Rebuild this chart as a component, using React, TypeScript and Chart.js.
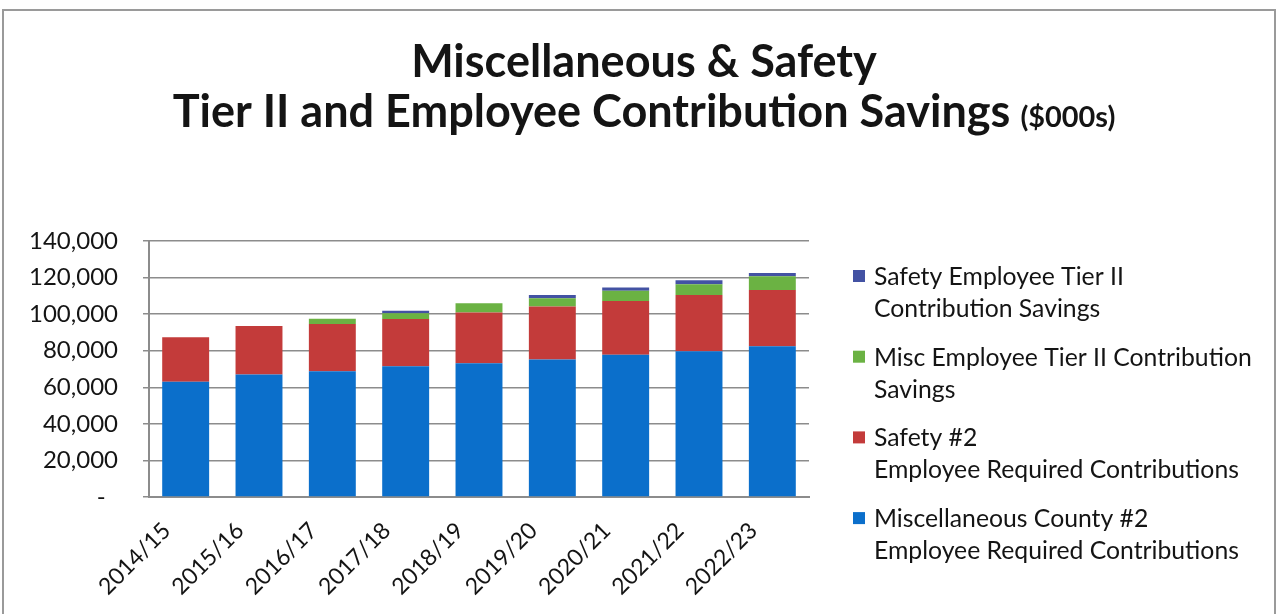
import React, { useEffect, useRef } from "react";
import { Chart, registerables } from "chart.js";

Chart.register(...registerables);

// ---- data ----
const categories = ["2014/15", "2015/16", "2016/17", "2017/18", "2018/19", "2019/20", "2020/21", "2021/22", "2022/23"];
const miscCountyRequired = [63000, 67000, 68800, 71500, 73200, 75200, 77800, 79700, 82500];
const safetyRequired = [24400, 26500, 25800, 25800, 27700, 29000, 29400, 30750, 30700];
const miscTier2Savings = [0, 0, 2900, 3200, 5000, 4500, 5600, 5950, 7500];
const safetyTier2Savings = [0, 0, 0, 1300, 0, 1750, 1800, 2200, 1800];
const yTickValues = [0, 20000, 40000, 60000, 80000, 100000, 120000, 140000];

const titleLine1 = "Miscellaneous & Safety";
const titleLine2 = "Tier II and Employee Contribution Savings";
const titleUnit = "($000s)";

const seriesNames = [
  ["Miscellaneous County #2", "Employee Required Contributions"],
  ["Safety #2", "Employee Required Contributions"],
  ["Misc Employee Tier II Contribution", "Savings"],
  ["Safety Employee Tier II", "Contribution Savings"],
];
const seriesColors = ["#0B6FCB", "#C33B3A", "#6BB243", "#4352A3"];

const FONT = "Lato";

function fitSize(ctx: CanvasRenderingContext2D, text: string, weight: string, target: number) {
  ctx.font = `${weight} 100px ${FONT}`;
  const w = ctx.measureText(text).width;
  return (100 * target) / w;
}

const overlayPlugin = {
  id: "overlay",
  beforeDraw(chart: any) {
    const ctx = chart.ctx as CanvasRenderingContext2D;
    ctx.save();
    ctx.fillStyle = "#ffffff";
    ctx.fillRect(0, 0, chart.width, chart.height);
    ctx.strokeStyle = "#9a9a9a";
    ctx.lineWidth = 2;
    ctx.strokeRect(3, 10, 1272, 700);
    ctx.restore();
  },
  afterDraw(chart: any) {
    const ctx = chart.ctx as CanvasRenderingContext2D;
    ctx.save();
    ctx.fillStyle = "#141414";
    ctx.textBaseline = "alphabetic";
    const cx = 644;
    // titles
    const s2 = fitSize(ctx, titleLine2, "bold", 838);
    ctx.font = `bold ${s2}px ${FONT}`;
    ctx.textAlign = "center";
    ctx.fillText(titleLine1, cx, 77);
    const w2 = ctx.measureText(titleLine2).width;
    const s3 = fitSize(ctx, titleUnit, "bold", 95);
    ctx.font = `bold ${s3}px ${FONT}`;
    const w3 = ctx.measureText(titleUnit).width;
    const gap = 10;
    const start = cx - (w2 + gap + w3) / 2;
    ctx.textAlign = "left";
    ctx.font = `bold ${s2}px ${FONT}`;
    ctx.fillText(titleLine2, start, 127);
    ctx.font = `bold ${s3}px ${FONT}`;
    ctx.fillText(titleUnit, start + w2 + gap, 127);

    // legend (reverse order)
    const ls = fitSize(ctx, seriesNames[2][0], "normal", 378);
    ctx.font = `normal ${ls}px ${FONT}`;
    const baseY = 285;
    const itemGap = 80.7;
    const lineGap = 32;
    for (let k = 0; k < 4; k++) {
      const idx = 3 - k;
      const y = baseY + k * itemGap;
      ctx.fillStyle = seriesColors[idx];
      ctx.fillRect(853, y - 15, 12, 12);
      ctx.fillStyle = "#141414";
      seriesNames[idx].forEach((line, j) => {
        ctx.fillText(line, 874, y + j * lineGap);
      });
    }
    ctx.restore();
  },
};

export default function App() {
  const ref = useRef<HTMLCanvasElement | null>(null);

  useEffect(() => {
    if (!ref.current) return;
    const values = [miscCountyRequired, safetyRequired, miscTier2Savings, safetyTier2Savings];
    const chart = new Chart(ref.current, {
      type: "bar",
      data: {
        labels: categories,
        datasets: values.map((d, i) => ({
          label: seriesNames[i].join(" "),
          data: d,
          backgroundColor: seriesColors[i],
          borderWidth: 0,
          barPercentage: 1,
          categoryPercentage: 0.64,
        })),
      },
      options: {
        responsive: false,
        animation: false,
        devicePixelRatio: 1,
        layout: { padding: { left: 0, top: 241, right: 469, bottom: 0 } },
        plugins: {
          legend: { display: false },
          title: { display: false },
          tooltip: { enabled: false },
        },
        scales: {
          x: {
            stacked: true,
            afterFit: (s: any) => {
              s.height = 117;
            },
            grid: { display: false },
            border: { display: true, color: "#8c8c8c", width: 2 },
            ticks: {
              autoSkip: false,
              minRotation: 45,
              maxRotation: 45,
              padding: 12,
              labelOffset: -19,
              color: "#141414",
              font: { family: FONT, size: 23 },
            },
          },
          y: {
            stacked: true,
            min: 0,
            max: 140000,
            afterFit: (s: any) => {
              s.width = 149;
            },
            afterBuildTicks: (s: any) => {
              s.ticks = yTickValues.map((v) => ({ value: v }));
            },
            grid: { color: "#8c8c8c", lineWidth: 1.5, drawTicks: true, tickLength: 6 },
            border: { display: true, color: "#8c8c8c", width: 2 },
            ticks: {
              padding: 25,
              color: "#141414",
              font: { family: FONT, size: 24 },
              callback: (v: any) => (Number(v) === 0 ? "-  " : Number(v).toLocaleString("en-US")),
            },
          },
        },
      },
      plugins: [overlayPlugin],
    });
    return () => chart.destroy();
  }, []);

  return (
    <div style={{ position: "absolute", left: 0, top: 0, width: 1278, height: 614, overflow: "hidden" }}>
      <canvas ref={ref} width={1278} height={614} style={{ width: 1278, height: 614, display: "block" }} />
    </div>
  );
}
